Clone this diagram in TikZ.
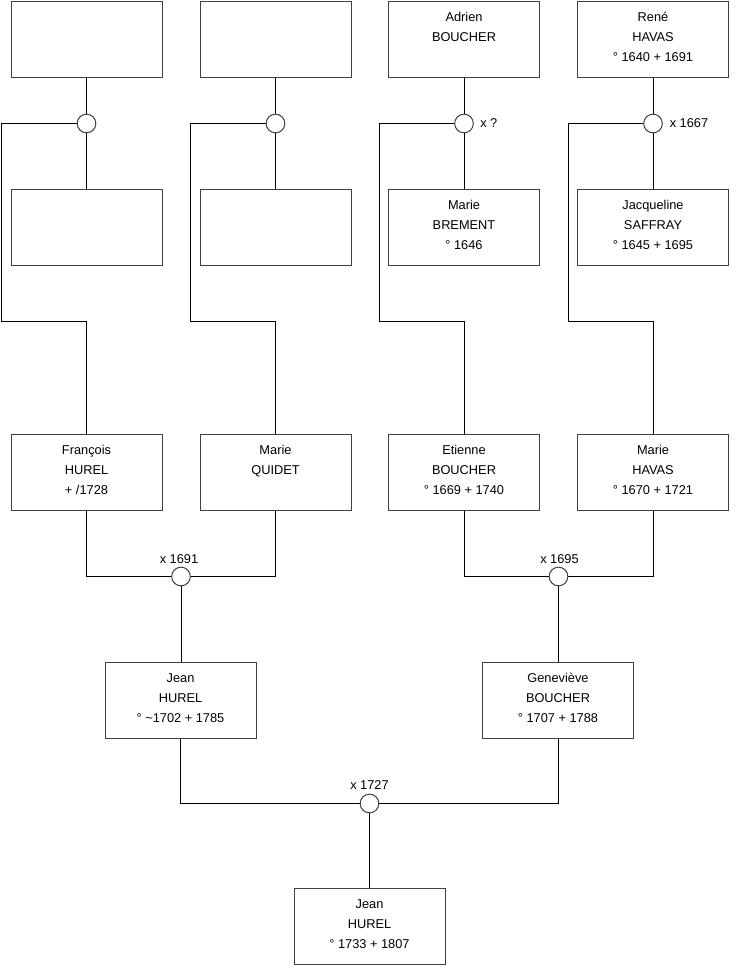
\documentclass[tikz,border=0pt]{standalone}
\usepackage{fontspec}
\setmainfont{Liberation Sans}
\begin{document}
\begin{tikzpicture}[x=0.75pt,y=-0.75pt,
  pbox/.style={draw=black!75,line width=0.75pt,fill=white,minimum width=113.25pt,minimum height=57pt,inner sep=0pt,anchor=north},
  ptext/.style={font=\fontsize{9.6}{15}\selectfont,align=center,inner sep=0pt,anchor=north},
  union/.style={circle,draw=black!75,line width=0.75pt,fill=white,minimum size=14pt,inner sep=0pt},
  conn/.style={draw=black,line width=0.75pt},
  mlab/.style={font=\fontsize{9.6}{11}\selectfont,inner sep=0pt}]
\useasboundingbox (0,0) rectangle (740,975);
\newcommand{\person}[4]{%
  \node[pbox] (#1) at (#2,#3) {};
  \node[ptext] (#1t) at ([yshift=-4.9pt]#1.north) {\strut#4};}
% row 1
\person{a}{86.5}{0.5}{}
\person{b}{275.5}{0.5}{}
\person{c}{464}{0.5}{Adrien\\BOUCHER}
\person{d}{653}{0.5}{René\\HAVAS\\° 1640 + 1691}
% row 2
\person{e}{86.5}{189}{}
\person{f}{275.5}{189}{}
\person{g}{464}{189}{Marie\\BREMENT\\° 1646}
\person{h}{653}{189}{Jacqueline\\SAFFRAY\\° 1645 + 1695}
% row 3
\person{i}{86.5}{434}{François\\HUREL\\+ /1728}
\person{j}{275.5}{434}{Marie\\QUIDET}
\person{k}{464}{434}{Etienne\\BOUCHER\\° 1669 + 1740}
\person{l}{653}{434}{Marie\\HAVAS\\° 1670 + 1721}
% row 4
\person{m}{180.5}{661.5}{Jean\\HUREL\\° \textasciitilde1702 + 1785}
\person{n}{558}{661.5}{Geneviève\\BOUCHER\\° 1707 + 1788}
% row 5
\person{o}{369.5}{888}{Jean\\HUREL\\° 1733 + 1807}
% unions
\node[union] (u1) at (86.5,123.5) {};
\node[union] (u2) at (275.5,123.5) {};
\node[union] (u3) at (464,123.5) {};
\node[union] (u4) at (653,123.5) {};
\node[union] (u5) at (181,576.5) {};
\node[union] (u6) at (558.5,576.5) {};
\node[union] (u7) at (369.5,803.5) {};
% corner coordinates
\coordinate (p1a) at (1.5,123.5);  \coordinate (p1b) at (1.5,321.5);  \coordinate (p1c) at (86.5,321.5);
\coordinate (p2a) at (190,123.5);  \coordinate (p2b) at (190,321.5);  \coordinate (p2c) at (275.5,321.5);
\coordinate (p3a) at (379,123.5);  \coordinate (p3b) at (379,321.5);  \coordinate (p3c) at (464,321.5);
\coordinate (p4a) at (568.5,123.5); \coordinate (p4b) at (568.5,321.5); \coordinate (p4c) at (653,321.5);
% connectors gen 1-2
\foreach \t/\u/\s in {a/u1/e,b/u2/f,c/u3/g,d/u4/h}{
  \draw[conn] (\t.south) -- (\u.north);
  \draw[conn] (\u.south) -- (\s.north);
}
\draw[conn] (u1.west) -- (p1a) -- (p1b) -- (p1c) -- (i.north);
\draw[conn] (u2.west) -- (p2a) -- (p2b) -- (p2c) -- (j.north);
\draw[conn] (u3.west) -- (p3a) -- (p3b) -- (p3c) -- (k.north);
\draw[conn] (u4.west) -- (p4a) -- (p4b) -- (p4c) -- (l.north);
% gen 3
\draw[conn] (i.south) |- (u5.west);
\draw[conn] (j.south) |- (u5.east);
\draw[conn] (u5.south) -- (u5.south |- m.north);
\draw[conn] (k.south) |- (u6.west);
\draw[conn] (l.south) |- (u6.east);
\draw[conn] (u6.south) -- (u6.south |- n.north);
% gen 4
\draw[conn] (m.south) |- (u7.west);
\draw[conn] (n.south) |- (u7.east);
\draw[conn] (u7.south) -- (o.north);
% marriage labels
\node[mlab,anchor=base west] (l3) at (480,127.5) {x ?};
\node[mlab,anchor=base west] (l4) at (669.5,127.5) {x 1667};
\node[mlab,anchor=base] (l5) at (179,563) {x 1691};
\node[mlab,anchor=base] (l6) at (559.5,563) {x 1695};
\node[mlab,anchor=base] (l7) at (369.5,789.5) {x 1727};
\end{tikzpicture}
\end{document}
